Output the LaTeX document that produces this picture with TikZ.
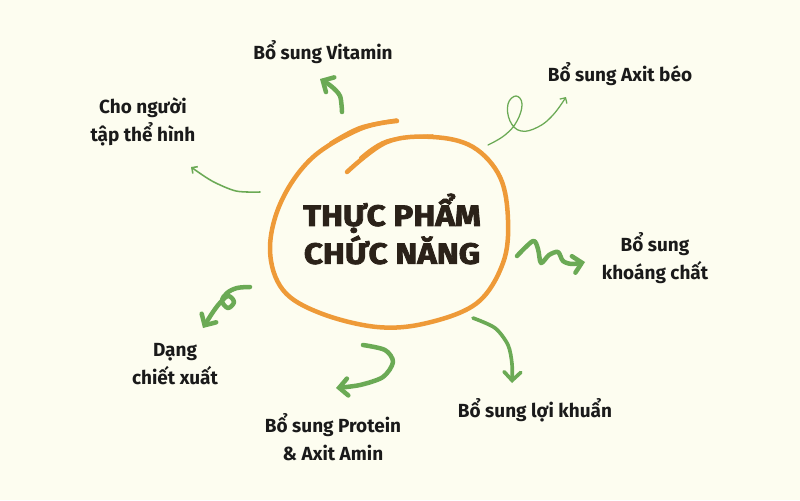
\documentclass[tikz,border=0pt]{standalone}
\usepackage{fontspec}
\setmainfont{Fira Sans}
\newfontfamily\ttlfont[BoldFeatures={FakeBold=2.5}]{Fira Sans}
\usetikzlibrary{arrows.meta}
\definecolor{bgc}{HTML}{FDFDF0}
\definecolor{grn}{HTML}{6BAA55}
\definecolor{org}{HTML}{EE9A38}
\definecolor{ttl}{HTML}{2B2219}
\definecolor{txt}{HTML}{1A1A1A}
\tikzset{
  lbl/.style={text=txt, align=center, inner sep=0pt, font={\fontsize{13.5}{20}\selectfont\bfseries}},
  ttlnode/.style={text=ttl, align=center, inner sep=0pt, font={\ttlfont\fontsize{21}{27}\selectfont\bfseries}, xscale=1.12},
  thick arrow/.style={draw=grn, line width=3.2pt, line cap=round, line join=round,
     -{Straight Barb[length=6pt,width=12pt,line cap=round]}},
  thin arrow/.style={draw=grn, line width=1.1pt, line cap=round,
     -{Straight Barb[length=3pt,width=6pt]}},
  loopline/.style={draw=org, line width=3.2pt, line cap=round, line join=round}
}
\begin{document}
\begin{tikzpicture}[x=0.025cm,y=-0.025cm]
\fill[bgc] (0,0) rectangle (800,500);
\useasboundingbox (0,0) rectangle (800,500);

% central hand-drawn loop
\draw[loopline] plot[smooth, tension=0.6] coordinates {(397,121) (360,129) (312,158) (281,202) (270,250) (283,290) (320,313) (377,327) (427,323) (477,303) (503,263) (508,220) (500,177) (473,147) (433,137) (387,142) (347,172)};
\draw[draw=org, line width=1.8pt, line cap=round] plot[smooth, tension=0.6] coordinates {(397,119.5) (360,127) (330,143)};
\draw[draw=org, line width=1.8pt, line cap=round] plot[smooth, tension=0.6] coordinates {(433,135.5) (387,140.5) (360,158)};

\node[ttlnode] (title) at (392,229) {THỰC PHẨM\\CHỨC NĂNG};

% labels
\node[lbl] (vit) at (323,52) {Bổ sung Vitamin};
\node[lbl] (axit) at (620,74) {Bổ sung Axit béo};
\node[lbl] (gym) at (143,122) {Cho người\\tập thể hình};
\node[lbl] (min) at (655,258) {Bổ sung\\khoáng chất};
\node[lbl] (prob) at (535,410) {Bổ sung lợi khuẩn};
\node[lbl] (ext) at (175,364) {Dạng\\chiết xuất};
\node[lbl] (prot) at (333,437) {Bổ sung Protein\\\& Axit Amin};

% arrow end points
\coordinate (vitA) at (342,112); \coordinate (vitB) at (320,79);
\coordinate (gymA) at (260,192); \coordinate (gymB) at (191,167);
\coordinate (axA) at (488,145);  \coordinate (axB) at (566,97);
\coordinate (minA) at (517,256); \coordinate (minB) at (585,262);
\coordinate (proA) at (473,318); \coordinate (proB) at (512,383);
\coordinate (ptA) at (363,345);  \coordinate (ptB) at (336,388);
\coordinate (exA) at (250,287);  \coordinate (exB) at (203,328);

% arrows
\draw[thick arrow] plot[smooth] coordinates {(vitA) (340,96) (331,86) (vitB)};
\draw[thin arrow] plot[smooth] coordinates {(gymA) (236,191) (212,181) (gymB)};
\draw[thin arrow, line width=0.9pt] plot[smooth, tension=0.7] coordinates {(axA) (505,135) (517,121) (522,104) (516,96) (508,104) (510,121) (521,131) (538,127) (553,115) (axB)};
\draw[thick arrow] plot[smooth, tension=0.5] coordinates {(minA) (533,241) (538,249) (541,263) (549,255) (558,252) (563,261) (572,264) (minB)};
\draw[thick arrow, line width=2.6pt] plot[smooth] coordinates {(proA) (495,328) (508,345) (512,364) (proB)};
\draw[thick arrow] plot[smooth] coordinates {(ptA) (385,350) (393,362) (383,377) (360,385) (ptB)};
\draw[thick arrow] plot[smooth, tension=0.6] coordinates {(exA) (237,288) (227,293) (222,301) (228,308) (234,302) (228,296) (219,304) (211,315) (exB)};
\end{tikzpicture}
\end{document}
